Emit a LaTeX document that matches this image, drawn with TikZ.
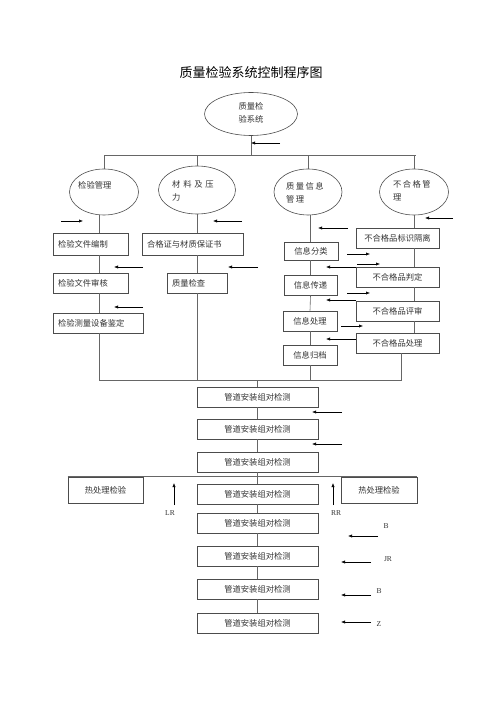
\documentclass[tikz,border=0pt]{standalone}
\usepackage{fontspec}
\setmainfont{Liberation Serif}
\newfontfamily\cjk{Noto Sans CJK SC}
\usetikzlibrary{shapes.geometric,arrows.meta}
\begin{document}
\begin{tikzpicture}[x=1pt,y=-1pt,
  ln/.style={draw=black!60,line width=0.6pt},
  bx/.style={draw=black!70,line width=0.6pt,rectangle,inner sep=0pt,font=\cjk\fontsize{8.3}{10}\selectfont,text=black!80},
  lbx/.style={bx,align=left,text width=#1,inner xsep=5pt},
  el/.style={draw=black!70,line width=0.6pt,ellipse,inner sep=0pt},
  et/.style={font=\cjk\fontsize{8.3}{13}\selectfont,text=black!80,inner sep=0pt,align=left},
  ar/.style={draw=black,line width=0.6pt,-{Latex[length=4pt,width=3.2pt]}},
  lb/.style={font=\fontsize{7.5}{9}\selectfont,inner sep=0pt,text=black!80}]
\useasboundingbox (0,0) rectangle (500,708);
% title
\node[font=\cjk\fontsize{13}{15}\selectfont,inner sep=0pt] (title) at (251,73) {质量检验系统控制程序图};
% top ellipse
\node[el,minimum width=93pt,minimum height=43pt] (top) at (251,114) {};
\node[et,align=center] (toptxt) at (251,113) {质量检\\验系统};
% bar
\coordinate (barL) at (104,155);
\coordinate (barR) at (416,155);
\draw[ln] (top.south) -- (top.south |- barL);
\draw[ln] (barL) -- (barR);
% ellipses
\node[el,minimum width=69pt,minimum height=46pt] (e1) at (104,192) {};
\node[el,minimum width=77pt,minimum height=48pt] (e2) at (197,190) {};
\node[el,minimum width=68pt,minimum height=46pt] (e3) at (308,192) {};
\node[el,minimum width=69pt,minimum height=46pt] (e4) at (414,192) {};
\node[et,anchor=west] (t1) at (78,185) {检验管理};
\node[et,anchor=west] (t2) at (172,191) {材\,\,料\,\,及\,\,压\\力};
\node[et,anchor=west] (t3) at (286,193) {质\,量\,信\,息\\管\,理};
\node[et,anchor=west] (t4) at (393,191) {不\,合\,格\,管\\理};
\foreach \e in {e1,e2,e3,e4}{\draw[ln] (\e.north) -- (\e.north |- barL);}
% column 1
\node[lbx=65pt,minimum height=22pt] (b11) at (90.5,244) {检验文件编制};
\node[lbx=65pt,minimum height=20pt] (b12) at (90.5,283) {检验文件审核};
\node[lbx=80pt,minimum height=20pt] (b13) at (98,323) {检验测量设备鉴定};
% column 2
\node[lbx=91pt,minimum height=22pt] (b21) at (192.5,244) {合格证与材质保证书};
\node[lbx=50pt,minimum height=20pt] (b22) at (197,283) {质量检查};
% column 3
\node[bx,minimum width=54pt,minimum height=18pt] (b31) at (311,251) {信息分类};
\node[bx,minimum width=53pt,minimum height=20pt] (b32) at (310.5,285) {信息传递};
\node[bx,minimum width=54pt,minimum height=20pt] (b33) at (310,321) {信息处理};
\node[bx,minimum width=54pt,minimum height=20pt] (b34) at (310,355) {信息归档};
% column 4
\node[bx,minimum width=83pt,minimum height=20pt] (b41) at (397.5,238) {不合格品标识隔离};
\node[bx,minimum width=83pt,minimum height=20pt] (b42) at (397.5,277) {不合格品判定};
\node[bx,minimum width=83pt,minimum height=20pt] (b43) at (397.5,311) {不合格品评审};
\node[bx,minimum width=83pt,minimum height=20pt] (b44) at (397.5,343) {不合格品处理};
% column links
\coordinate (c1x) at (99,0);
\draw[ln] (e1.south -| c1x) -- (b11.north -| c1x);
\draw[ln] (b11.south -| c1x) -- (b12.north -| c1x);
\draw[ln] (b12.south -| c1x) -- (b13.north -| c1x);
\draw[ln] (e2.south) -- (e2.south |- b21.north);
\draw[ln] (b21.south -| b22.north) -- (b22.north);
\draw[ln] (e3.south -| b32.north) -- (b31.north -| b32.north);
\draw[ln] (b31.south -| b32.north) -- (b32.north);
\draw[ln] (b32.south) -- (b33.north);
\draw[ln] (b33.south) -- (b34.north);
\coordinate (c4x) at (414,0);
\draw[ln] (e4.south -| c4x) -- (b41.north -| c4x);
\draw[ln] (b41.south -| c4x) -- (b42.north -| c4x);
\draw[ln] (b42.south -| c4x) -- (b43.north -| c4x);
\draw[ln] (b43.south -| c4x) -- (b44.north -| c4x);
% bottom bar
\coordinate (bbL) at (99,380);
\coordinate (bbR) at (401,380);
\draw[ln] (b13.south -| bbL) -- (bbL) -- (bbR) -- (bbR |- b44.south);
\draw[ln] (b22.south) -- (b22.south |- bbL);
\draw[ln] (b34.south) -- (b34.south |- bbL);
% main chain
\foreach \i/\y in {1/397,2/429,3/462,4/494,5/523,6/556,7/589,8/623}{
  \node[bx,minimum width=121pt,minimum height=20pt] (m\i) at (257.5,\y) {管道安装组对检测};}
\draw[ln] (m1.north |- bbL) -- (m1.north);
\foreach \a/\b in {m1/m2,m2/m3,m3/m4,m4/m5,m5/m6,m6/m7,m7/m8}{\draw[ln] (\a.south) -- (\b.north);}
% heat treatment
\node[bx,minimum width=75pt,minimum height=26pt] (hL) at (105.5,490) {热处理检验};
\node[bx,minimum width=76pt,minimum height=26pt] (hR) at (379,490) {热处理检验};
\draw[ln] (hL.north west) -- (hR.north east);
% arrows
\draw[ar] (280,143) -- (top.south |- 0,143);
\draw[ar] (61,221) -- (83,221);
\draw[ar] (143,267) -- (114,267);
\draw[ar] (143,307) -- (114,307);
\draw[ar] (242,221) -- (213,221);
\draw[ar] (258,267) -- (228,267);
\draw[ar] (348,228) -- (318,228);
\draw[ar] (347,254) -- (370,254);
\draw[ar] (357,264) -- (380,264);
\draw[ar] (347,293) -- (370,293);
\draw[ar] (341,326) -- (363,326);
\draw[ar] (b42.west |- 0,267) -- (326,267);
\draw[ar] (b43.west |- 0,300) -- (326,300);
\draw[ar] (b44.west |- 0,339) -- (326,339);
\draw[ar] (453,218) -- (425,218);
\draw[ar] (342,412) -- (312,412);
\draw[ar] (342,444) -- (312,444);
\draw[ar] (174,505) -- (174,483);
\draw[ar] (333,505) -- (333,483);
\draw[ar] (378,536) -- (348,536);
\draw[ar] (371,562) -- (341,562);
\draw[ar] (371,595) -- (341,595);
\draw[ar] (371,622) -- (341,622);
% labels
\node[lb] (lLR) at (170,513) {LR};
\node[lb] (lRR) at (336,513) {RR};
\node[lb] (lB1) at (386,526) {B};
\node[lb] (lJR) at (388,559) {JR};
\node[lb] (lB2) at (379,591) {B};
\node[lb] (lZ) at (379,624) {Z};
\end{tikzpicture}
\end{document}
